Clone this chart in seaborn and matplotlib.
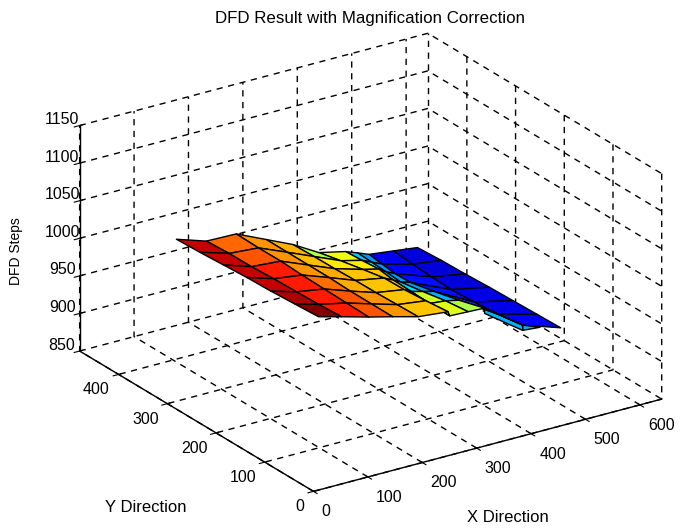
import numpy as np
import matplotlib
matplotlib.use("Agg")
import matplotlib.pyplot as plt
import seaborn as sns
from mpl_toolkits.mplot3d import Axes3D  # noqa

sns.set_style("white")
plt.rcParams['font.family'] = ['Liberation Sans', 'DejaVu Sans']
plt.rcParams['text.color'] = 'black'

x_rows = [
    [90, 132, 182, 226, 273, 328, 331, 365, 395, 465, 535],
    [90, 134, 185, 231, 278, 331, 338, 367, 392, 463, 535],
    [90, 137, 188, 236, 283, 335, 348, 369, 390, 463, 535],
    [90, 139, 191, 241, 289, 342, 359, 372, 390, 465, 535],
    [90, 141, 195, 246, 294, 346, 375, 388, 405, 472, 534],
    [90, 144, 198, 251, 300, 349, 388, 406, 425, 481, 534],
    [91, 146, 201, 256, 305, 353, 402, 424, 445, 490, 534],
]
y_nodes = [90, 139, 188, 237, 285, 334, 383]
z_rows = [
    [1030, 1022, 1012, 1004, 995, 991, 985, 984, 983, 947, 930],
    [1028, 1019, 1011, 1001, 991, 986, 981, 979, 975, 943, 929],
    [1026, 1016, 1010, 998, 987, 981, 976, 972, 968, 940, 928],
    [1025, 1014, 1009, 996, 983, 976, 970, 965, 961, 937, 927],
    [1023, 1011, 1008, 993, 979, 968, 963, 957, 951, 934, 926],
    [1021, 1009, 1006, 990, 975, 960, 953, 947, 941, 930, 925],
    [1019, 1006, 1005, 987, 971, 951, 943, 937, 931, 927, 923],
]
cell_levels = [
    [1.00, .88, .82, .75, .70, .70, .62, .56, .12, .11],
    [.96, .88, .82, .75, .70, .70, .60, .30, .18, .09],
    [.94, .88, .79, .73, .70, .70, .34, .28, .14, .09],
    [.94, .88, .75, .73, .70, .70, .32, .28, .14, .08],
    [.94, .82, .75, .71, .66, .66, .35, .27, .12, .08],
    [.94, .80, .75, .72, .56, .64, .32, .27, .10, .08],
]
strip_x = [395, 465, 497]
strip_y = [90, 90]
strip_z = [[976, 940, 938], [983, 947, 938]]
strip_level = .30

x_ticks = [0, 100, 200, 300, 400, 500, 600]
y_ticks = [0, 100, 200, 300, 400]
z_ticks = [850, 900, 950, 1000, 1050, 1100, 1150]
x_lim = (0, 640)
y_lim = (0, 480)
z_lim = (850, 1150)

jet = matplotlib.colormaps["jet"]

fig = plt.figure(figsize=(6.81, 5.31), dpi=100, facecolor="white")
ax = fig.add_axes([23 / 681, -4 / 531, 1.0, 1.0], projection="3d", proj_type="ortho")
ax.set_box_aspect((416.6, 421, 245), zoom=1.176)
ax.view_init(elev=23.5, azim=-123.6)
ax.set_xlim(*x_lim, view_margin=0)
ax.set_ylim(*y_lim, view_margin=0)
ax.set_zlim(*z_lim, view_margin=0)

X = np.array(x_rows, dtype=float)
Y = np.tile(np.array(y_nodes, dtype=float)[:, None], (1, X.shape[1]))
Z = np.array(z_rows, dtype=float)
ax.plot_surface(X, Y, Z, facecolors=jet(np.array(cell_levels)), rstride=1, cstride=1,
                shade=False, edgecolor="black", linewidth=1.0, antialiased=True)

SX, SY = np.meshgrid(strip_x, strip_y)
SZ = np.array(strip_z, dtype=float)
ax.plot_surface(SX.astype(float), SY.astype(float), SZ, color=jet(strip_level), rstride=1, cstride=1,
                shade=False, edgecolor="black", linewidth=1.0)

ax.set_xticks(x_ticks)
ax.set_yticks(y_ticks)
ax.set_zticks(z_ticks)
ax.xaxis.pane.fill = False
ax.yaxis.pane.fill = False
ax.zaxis.pane.fill = False
for axis in (ax.xaxis, ax.yaxis, ax.zaxis):
    axis.pane.set_edgecolor("none")
    axis._axinfo["grid"].update(color="black", linewidth=1.0, linestyle=(0, (4.5, 4)))
    axis.line.set_color("black")
    axis.line.set_linewidth(1.0)
ax.grid(True)
ax.plot([x_lim[1], x_lim[1]], [y_lim[1], y_lim[1]], list(z_lim), color="black", lw=1.0,
        ls=(0, (4.5, 4)), zorder=0)
ax.tick_params(axis="both", labelsize=11.5, colors="black", pad=-3)
ax.tick_params(axis="x", pad=-1)
ax.tick_params(axis="z", pad=-2)
ax.zaxis.set_ticks_position("upper")
for lab in ax.get_xticklabels():
    lab.set_ha("left")
for lab in ax.get_yticklabels():
    lab.set_ha("right")
for lab in ax.get_zticklabels():
    lab.set_va("baseline")

fig.text(370 / 681, 1 - 18 / 531, "DFD Result with Magnification Correction", ha="center", va="center", fontsize=12.2)
fig.text(146 / 681, 1 - 507 / 531, "Y Direction", ha="center", va="center", fontsize=12)
fig.text(508 / 681, 1 - 518 / 531, "X Direction", ha="center", va="center", fontsize=12)
fig.text(16 / 681, 1 - 251 / 531, "DFD Steps", ha="center", va="center", rotation=90, fontsize=10)
fig.savefig("out.png", dpi=100)
